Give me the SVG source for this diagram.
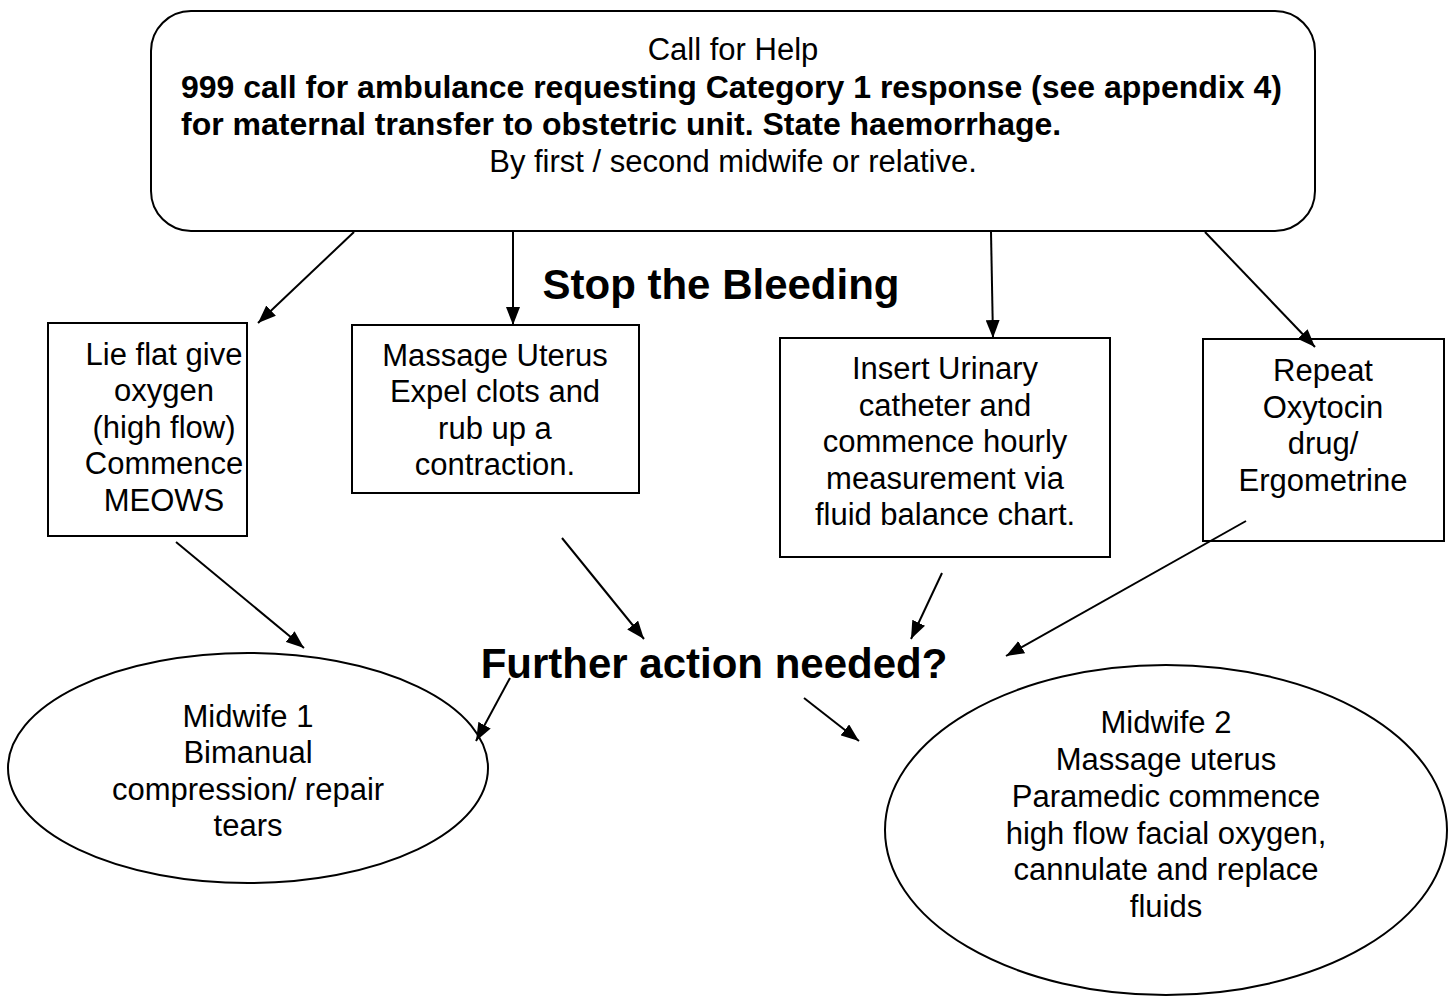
<svg xmlns="http://www.w3.org/2000/svg" width="1454" height="996" viewBox="0 0 1454 996">
<defs>
<marker id="ah" viewBox="0 0 18 14" refX="18" refY="7" markerWidth="18" markerHeight="14" markerUnits="userSpaceOnUse" orient="auto">
<path d="M0,0 L18,7 L0,14 z" fill="#000"/>
</marker>
<style>
.shape{fill:#fff;stroke:#000;stroke-width:2}
.t{font-family:"Liberation Sans",Arial,sans-serif;font-size:31px;fill:#000;text-anchor:middle}
.b{font-family:"Liberation Sans",Arial,sans-serif;font-size:32px;font-weight:bold;fill:#000}
.big{font-family:"Liberation Sans",Arial,sans-serif;font-size:42px;font-weight:bold;fill:#000;text-anchor:middle}
.c{stroke:#000;stroke-width:2;fill:none;marker-end:url(#ah)}
</style>
</defs>
<rect width="1454" height="996" fill="#fff"/>
<g id="top">
<rect class="shape" x="151" y="11" width="1164" height="220" rx="40" ry="40"/>
<text class="t" x="733" y="60">Call for Help</text>
<text class="b" x="181" y="98">999 call for ambulance requesting Category 1 response (see appendix 4)</text>
<text class="b" x="181" y="135">for maternal transfer to obstetric unit. State haemorrhage.</text>
<text class="t" x="733" y="172">By first / second midwife or relative.</text>
</g>
<g id="stop"><text class="big" x="721" y="299">Stop the Bleeding</text></g>
<g id="box1">
<rect class="shape" x="48" y="323" width="199" height="213"/>
<text class="t" x="164" y="365">Lie flat give</text>
<text class="t" x="164" y="401">oxygen</text>
<text class="t" x="164" y="438">(high flow)</text>
<text class="t" x="164" y="474">Commence</text>
<text class="t" x="164" y="511">MEOWS</text>
</g>
<g id="box2">
<rect class="shape" x="352" y="325" width="287" height="168"/>
<text class="t" x="495" y="366">Massage Uterus</text>
<text class="t" x="495" y="402">Expel clots and</text>
<text class="t" x="495" y="439">rub up a</text>
<text class="t" x="495" y="475">contraction.</text>
</g>
<g id="box3">
<rect class="shape" x="780" y="338" width="330" height="219"/>
<text class="t" x="945" y="379">Insert Urinary</text>
<text class="t" x="945" y="416">catheter and</text>
<text class="t" x="945" y="452">commence hourly</text>
<text class="t" x="945" y="489">measurement via</text>
<text class="t" x="945" y="525">fluid balance chart.</text>
</g>
<g id="box4">
<rect class="shape" x="1203" y="339" width="241" height="202"/>
<text class="t" x="1323" y="381">Repeat</text>
<text class="t" x="1323" y="418">Oxytocin</text>
<text class="t" x="1323" y="454">drug/</text>
<text class="t" x="1323" y="491">Ergometrine</text>
</g>
<g id="further"><text class="big" x="714" y="678">Further action needed?</text></g>
<g id="midwife1">
<ellipse class="shape" cx="248" cy="768" rx="240" ry="115"/>
<text class="t" x="248" y="727">Midwife 1</text>
<text class="t" x="248" y="763">Bimanual</text>
<text class="t" x="248" y="800">compression/ repair</text>
<text class="t" x="248" y="836">tears</text>
</g>
<g id="midwife2">
<ellipse class="shape" cx="1166" cy="830" rx="281" ry="165"/>
<text class="t" x="1166" y="733">Midwife 2</text>
<text class="t" x="1166" y="770">Massage uterus</text>
<text class="t" x="1166" y="807">Paramedic commence</text>
<text class="t" x="1166" y="844">high flow facial oxygen,</text>
<text class="t" x="1166" y="880">cannulate and replace</text>
<text class="t" x="1166" y="917">fluids</text>
</g>
<g id="connectors">
<line class="c" x1="354" y1="232" x2="258" y2="323"/>
<line class="c" x1="513" y1="232" x2="513" y2="325"/>
<line class="c" x1="991" y1="232" x2="993" y2="338"/>
<line class="c" x1="1205" y1="232" x2="1315" y2="347"/>
<line class="c" x1="176" y1="542" x2="304" y2="648"/>
<line class="c" x1="562" y1="538" x2="644" y2="639"/>
<line class="c" x1="942" y1="573" x2="911" y2="639"/>
<line class="c" x1="1246" y1="521" x2="1006" y2="656"/>
<line class="c" x1="510" y1="678" x2="476" y2="741"/>
<line class="c" x1="804" y1="698" x2="859" y2="741"/>
</g>
</svg>
